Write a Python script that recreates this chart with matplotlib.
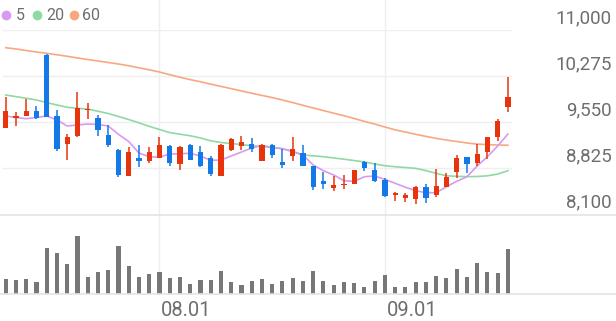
import matplotlib.pyplot as plt
import matplotlib.transforms as mtransforms
from matplotlib.lines import Line2D

# daily candles (price in won)
opens = [9450, 9610, 9650, 9720, 10600, 9650, 9200, 9330, 9740, 9620,
         9350, 9110, 8700, 8990, 8940, 8980, 9170, 8890, 9190, 9080,
         8980, 8700, 9110, 9170, 9200, 8940, 9190, 8920, 9010, 9060,
         8860, 8620, 8510, 8560, 8580, 8920, 8790, 8640, 8400, 8360,
         8330, 8530, 8400, 8520, 8760, 9000, 8900, 9070, 9310, 9780]
highs = [9940, 9700, 9910, 9810, 10620, 9740, 9360, 10030, 9850, 9660,
         9500, 9130, 9150, 9180, 9150, 9320, 9180, 9170, 9200, 9170,
         9010, 9200, 9300, 9330, 9290, 9200, 9200, 9120, 9310, 9180,
         8860, 8760, 8700, 8710, 8790, 8930, 8900, 8670, 8450, 8430,
         8540, 8570, 8810, 8750, 9030, 9000, 9200, 9310, 9600, 10260]
lows = [9450, 9480, 9650, 9590, 9630, 9100, 8950, 9320, 9590, 9330,
        9150, 8680, 8700, 8840, 8900, 8980, 8850, 8790, 8950, 8840,
        8700, 8700, 9090, 9110, 9080, 8940, 8980, 8820, 8940, 8860,
        8480, 8500, 8470, 8500, 8580, 8780, 8600, 8370, 8300, 8290,
        8250, 8280, 8370, 8520, 8670, 8740, 8860, 8970, 9250, 9700]
closes = [9730, 9650, 9720, 9610, 9630, 9120, 9320, 9770, 9760, 9420,
          9180, 8710, 9080, 8940, 9080, 9190, 8900, 9150, 8950, 8850,
          8730, 9190, 9280, 9240, 9120, 9190, 9030, 8880, 9130, 8860,
          8530, 8580, 8560, 8580, 8790, 8830, 8620, 8380, 8430, 8400,
          8530, 8360, 8540, 8690, 8990, 8890, 9050, 9310, 9570, 9950]
volumes = [45, 42, 45, 35, 138, 122, 90, 173, 52, 65,
           72, 143, 82, 52, 60, 64, 49, 51, 30, 42,
           42, 67, 37, 27, 38, 46, 30, 39, 48, 38,
           69, 39, 28, 35, 33, 21, 39, 56, 22, 22,
           36, 35, 54, 48, 75, 51, 91, 64, 61, 135]
volumes = [v * 1000 for v in volumes]

ma5 = [9645, 9621, 9602, 9621, 9645, 9582, 9487, 9503, 9518, 9511,
       9487, 9356, 9243, 9061, 9003, 8994, 9046, 9050, 9057, 9014,
       8946, 8951, 9014, 9077, 9140, 9180, 9151, 9129, 9088, 9030,
       8872, 8782, 8715, 8625, 8615, 8688, 8699, 8644, 8584, 8521,
       8467, 8436, 8436, 8530, 8615, 8688, 8857, 9003, 9172, 9361]
ma20 = [9976, 9950, 9924, 9897, 9856, 9818, 9782, 9766, 9753, 9720,
        9684, 9637, 9589, 9537, 9482, 9432, 9383, 9358, 9333, 9298,
        9254, 9227, 9210, 9195, 9175, 9164, 9147, 9129, 9082, 9030,
        9017, 9003, 8983, 8964, 8942, 8920, 8888, 8861, 8845, 8833,
        8819, 8784, 8741, 8702, 8694, 8689, 8691, 8702, 8730, 8782]
ma60 = [10721, 10701, 10677, 10653, 10633, 10609, 10586, 10559, 10535, 10511,
        10488, 10464, 10437, 10404, 10373, 10338, 10296, 10255, 10218, 10184,
        10147, 10111, 10076, 10039, 10004, 9969, 9935, 9897, 9856, 9813,
        9771, 9730, 9689, 9649, 9605, 9559, 9518, 9471, 9426, 9392,
        9356, 9323, 9292, 9266, 9243, 9219, 9202, 9194, 9188, 9183]

price_ticks = [8100, 8825, 9550, 10275, 11000]
date_idx = [15, 37]
date_labels = ['08.01', '09.01']
ma_names = ['5', '20', '60']

RED = '#e8340c'
BLUE = '#1479e8'
MA_COLORS = ['#d79af0', '#8fd9a2', '#f7a882']
GRID = '#efefef'
TXT = '#6e6e6e'
plt.rcParams['font.family'] = ['Roboto', 'DejaVu Sans']

W, H = 616, 321
fig = plt.figure(figsize=(W / 100, H / 100), dpi=100)


def fx(px):
    return px / W


def fy(py):
    return 1 - py / H


ax = fig.add_axes([0, fy(214), fx(512), fy(30) - fy(214)])
axv = fig.add_axes([0, fy(294), fx(512), fy(215) - fy(294)])
xlim = (-5.7 / 10.25, (512 - 5.7) / 10.25)
for a in (ax, axv):
    a.set_xlim(*xlim)
    a.axis('off')
    a.patch.set_alpha(0)
ax.set_ylim(price_ticks[0], price_ticks[-1])
axv.set_ylim(0, 235000)

# grid
for p in price_ticks[1:]:
    ax.axhline(p, xmin=3 / 512, color=GRID, lw=1, zorder=0)
fig.add_artist(Line2D([0, 1], [fy(214.5)] * 2, color='#e4e4e4', lw=1.2))
fig.add_artist(Line2D([0, 1], [fy(294)] * 2, color='#e4e4e4', lw=1.2))
vtrans = mtransforms.blended_transform_factory(ax.transData, fig.transFigure)
for i in date_idx:
    fig.add_artist(Line2D([i, i], [fy(0), fy(294)], color=GRID, lw=1,
                          transform=vtrans, zorder=0))

# candles
x = list(range(len(opens)))
colors = [RED if c >= o else BLUE for o, c in zip(opens, closes)]
bottoms = [min(o, c) for o, c in zip(opens, closes)]
heights = [max(abs(c - o), 15) for o, c in zip(opens, closes)]
ax.vlines(x, lows, highs, colors=colors, lw=1.1, zorder=3)
ax.bar(x, heights, bottom=bottoms, width=0.52, color=colors, zorder=4)

# moving averages
for vals, col in zip([ma60, ma20, ma5], MA_COLORS[::-1]):
    ax.plot(x, vals, color=col, lw=1.2, zorder=2)

# volume
axv.bar(x, volumes, width=0.4, color='#777777')

# price labels
ytrans = mtransforms.offset_copy(
    mtransforms.blended_transform_factory(fig.transFigure, ax.transData),
    fig=fig, y=6.5, units='dots')
for p in price_ticks:
    ax.text(fx(612), p, f'{p:,}', transform=ytrans, ha='right', va='baseline',
            fontsize=13.5, color=TXT)

# date labels
dtrans = mtransforms.offset_copy(vtrans, fig=fig, x=1.5, units='dots')
for i, lab in zip(date_idx, date_labels):
    fig.add_artist(plt.Text(i, fy(316.5), lab, transform=dtrans, ha='left',
                            va='baseline', fontsize=14.5, color=TXT))

# legend
leg_x = [5.5, 37, 74]
txt_x = [16, 46, 82]
for lx, tx, col, name in zip(leg_x, txt_x, MA_COLORS, ma_names):
    fig.add_artist(Line2D([fx(lx)], [fy(15)], marker='o', markersize=6,
                          color=col, lw=0, transform=fig.transFigure))
    fig.text(fx(tx), fy(15), name, ha='left', va='center', fontsize=11.5,
             color=TXT)

fig.savefig('out.png', dpi=100)
